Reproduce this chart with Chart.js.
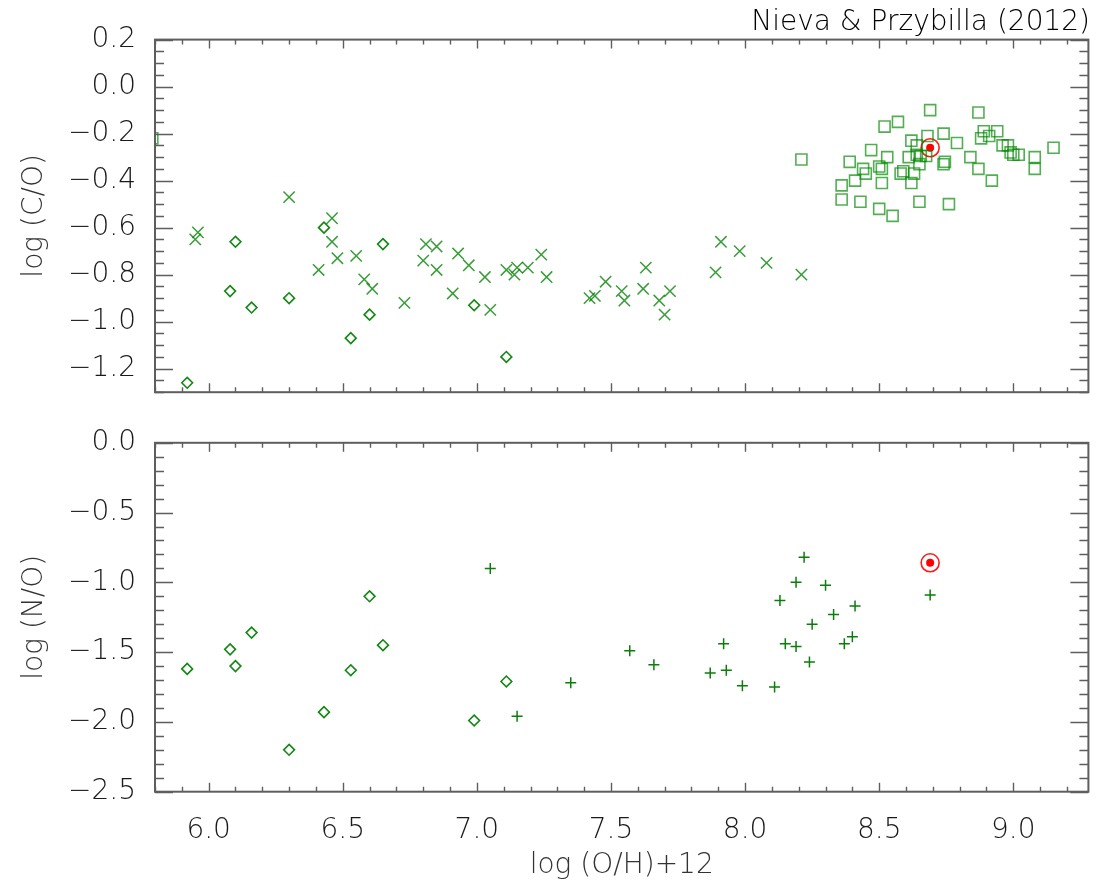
<!DOCTYPE html>
<html>
<head>
<meta charset="utf-8">
<script src="https://cdn.jsdelivr.net/npm/chart.js@4.4.1/dist/chart.umd.min.js"></script>
<style>
  html, body { margin: 0; padding: 0; background: #fff; }
  #wrap { position: relative; width: 1099px; height: 885px; overflow: hidden; }
  canvas { position: absolute; left: 0; }
  #topChart { top: 0; }
  #botChart { top: 415px; }
</style>
</head>
<body>
<div id="wrap">
  <canvas id="topChart" width="1099" height="420"></canvas>
  <canvas id="botChart" width="1099" height="470"></canvas>
</div>
<script>
// tick labels
var xTicks = [6.0, 6.5, 7.0, 7.5, 8.0, 8.5, 9.0];
var coTicks = [0.2, 0.0, -0.2, -0.4, -0.6, -0.8, -1.0, -1.2];
var noTicks = [0.0, -0.5, -1.0, -1.5, -2.0, -2.5];

// diamonds (same stars in both panels)
var dmX  = [5.92, 6.08, 6.10, 6.16, 6.30, 6.43, 6.53, 6.60, 6.65, 6.99, 7.11];
var dmCO = [-1.26, -0.87, -0.66, -0.94, -0.90, -0.60, -1.07, -0.97, -0.67, -0.93, -1.15];
var dmNO = [-1.62, -1.48, -1.60, -1.36, -2.20, -1.93, -1.63, -1.10, -1.45, -1.99, -1.71];

// crosses, log(C/O)
var crX = [5.95, 5.96, 6.30, 6.46, 6.46, 6.48, 6.41, 6.55, 6.58, 6.61, 6.73, 6.81, 6.85, 6.80,
           6.85, 6.93, 6.97, 6.91, 7.03, 7.05, 7.11, 7.14, 7.15, 7.19, 7.24, 7.26, 7.48, 7.42,
           7.44, 7.54, 7.55, 7.63, 7.62, 7.68, 7.72, 7.70, 7.91, 7.89, 7.98, 8.08, 8.21];
var crY = [-0.65, -0.62, -0.47, -0.56, -0.66, -0.73, -0.78, -0.72, -0.82, -0.86, -0.92, -0.67, -0.68, -0.74,
           -0.78, -0.71, -0.76, -0.88, -0.81, -0.95, -0.78, -0.80, -0.77, -0.77, -0.715, -0.81, -0.83, -0.90,
           -0.89, -0.87, -0.91, -0.77, -0.86, -0.91, -0.87, -0.97, -0.66, -0.79, -0.70, -0.75, -0.80];

// squares, log(C/O)
var sqX = [8.21, 8.69, 8.87, 8.57, 8.52, 8.74, 8.89, 8.94, 8.91, 8.88, 8.68, 8.62, 8.79, 8.64,
           8.96, 8.98, 9.15, 8.47, 8.99, 9.00, 9.02, 9.08, 8.64, 8.655, 8.675, 8.61, 8.53, 8.84,
           8.39, 8.745, 8.50, 8.51, 8.44, 8.65, 8.74, 9.08, 8.87, 8.45, 8.59, 8.63, 8.58, 8.41,
           8.51, 8.62, 8.92, 8.36, 8.36, 8.43, 8.50, 8.55, 8.65, 8.76, 5.79];
var sqY = [-0.31, -0.10, -0.11, -0.15, -0.17, -0.20, -0.19, -0.19, -0.21, -0.22, -0.21, -0.23, -0.24, -0.25,
           -0.25, -0.25, -0.26, -0.27, -0.28, -0.29, -0.29, -0.30, -0.29, -0.295, -0.295, -0.30, -0.30, -0.30,
           -0.32, -0.32, -0.34, -0.35, -0.35, -0.33, -0.33, -0.35, -0.35, -0.37, -0.36, -0.37, -0.37, -0.40,
           -0.41, -0.41, -0.40, -0.42, -0.48, -0.49, -0.52, -0.55, -0.49, -0.50, -0.22];

// plus signs, log(N/O)
var plX = [7.05, 7.15, 8.22, 8.19, 8.30, 8.13, 8.41, 8.33, 8.25, 8.40, 8.37, 8.15, 8.19, 7.92,
           8.24, 7.57, 7.66, 7.35, 7.87, 7.93, 7.99, 8.11, 8.69];
var plY = [-0.90, -1.96, -0.82, -1.00, -1.02, -1.13, -1.17, -1.23, -1.30, -1.39, -1.44, -1.44, -1.46, -1.44,
           -1.57, -1.49, -1.59, -1.72, -1.65, -1.63, -1.74, -1.75, -1.09];

// the Sun
var sunX = [8.69];
var sunCO = [-0.26];
var sunNO = [-0.86];

function pts(xs, ys) {
    var out = [];
    for (var i = 0; i < xs.length; i++) out.push({x: xs[i], y: ys[i]});
    return out;
}

function fmt(v) {
    var s = Math.abs(v).toFixed(1);
    return v < -1e-9 ? '\u2212' + s : s;
}

Chart.defaults.font.family = "'DejaVu Sans', 'Liberation Sans', sans-serif";
Chart.defaults.font.weight = '200';
Chart.defaults.color = '#111';

// inward ticks on all four sides plus the frame
var frameTicks = {
    id: 'frameTicks',
    afterDatasetsDraw: function (chart, args, o) {
        var ctx = chart.ctx, a = chart.chartArea;
        var sx = chart.scales.x, sy = chart.scales.y;
        ctx.save();
        ctx.strokeStyle = '#5e5e5e';
        ctx.lineWidth = 1.4;
        var i, v, p, len, major;
        for (i = Math.ceil(sx.min / o.xStep - 1e-6); i <= Math.floor(sx.max / o.xStep + 1e-6); i++) {
            v = i * o.xStep;
            major = Math.abs(v / o.xMajor - Math.round(v / o.xMajor)) < 1e-6;
            len = major ? 9 : 5;
            p = Math.round(sx.getPixelForValue(v)) + 0.5;
            ctx.beginPath();
            ctx.moveTo(p, a.bottom); ctx.lineTo(p, a.bottom - len);
            ctx.moveTo(p, a.top); ctx.lineTo(p, a.top + len);
            ctx.stroke();
        }
        for (i = Math.ceil(sy.min / o.yStep - 1e-6); i <= Math.floor(sy.max / o.yStep + 1e-6); i++) {
            v = i * o.yStep;
            major = Math.abs(v / o.yMajor - Math.round(v / o.yMajor)) < 1e-6;
            len = major ? 18 : 9;
            p = Math.round(sy.getPixelForValue(v)) + 0.5;
            ctx.beginPath();
            ctx.moveTo(a.left, p); ctx.lineTo(a.left + len, p);
            ctx.moveTo(a.right, p); ctx.lineTo(a.right - len, p);
            ctx.stroke();
        }
        ctx.lineWidth = 2;
        ctx.strokeRect(a.left, a.top, a.right - a.left, a.bottom - a.top);
        ctx.restore();
    }
};

function sunSets(yv) {
    return [
        {data: pts(sunX, yv), pointStyle: 'circle', pointRadius: 9, borderWidth: 1.6,
         borderColor: '#ff1a1a', backgroundColor: 'rgba(0,0,0,0)', clip: 0},
        {data: pts(sunX, yv), pointStyle: 'circle', pointRadius: 4, borderWidth: 0,
         borderColor: '#ff0000', backgroundColor: '#ff0000', clip: 0}
    ];
}

function yAxis(lo, hi, tickArr, label) {
    return {
        min: lo, max: hi,
        afterFit: function (s) { s.width = 155; },
        afterBuildTicks: function (s) { s.ticks = tickArr.map(function (v) { return {value: v}; }); },
        ticks: {autoSkip: false, padding: 11, color: '#1a1a1a', font: {size: 28}, callback: fmt},
        grid: {display: false}, border: {display: false},
        title: {display: true, text: label, color: '#333', font: {size: 28}, padding: {top: 18, bottom: 0}}
    };
}

new Chart(document.getElementById('topChart'), {
    type: 'scatter',
    data: {
        datasets: [
            {data: pts(sqX, sqY), pointStyle: 'rect', pointRadius: 7.8, borderWidth: 1.6,
             borderColor: 'rgba(0,135,0,0.68)', backgroundColor: 'rgba(0,0,0,0)', clip: 0},
            {data: pts(crX, crY), pointStyle: 'crossRot', pointRadius: 8, borderWidth: 1.5,
             borderColor: 'rgba(0,130,0,0.78)', backgroundColor: 'rgba(0,0,0,0)', clip: 0},
            {data: pts(dmX, dmCO), pointStyle: 'rectRot', pointRadius: 5.4, borderWidth: 1.6,
             borderColor: 'rgb(20,135,20)', backgroundColor: 'rgba(0,0,0,0)', clip: 0}
        ].concat(sunSets(sunCO))
    },
    options: {
        responsive: false, animation: false, events: [],
        layout: {padding: {top: 0, right: 9, bottom: 9, left: 0}},
        plugins: {
            legend: {display: false}, tooltip: {enabled: false},
            title: {display: true, text: 'Nieva & Przybilla (2012)', align: 'end', color: '#000',
                    font: {size: 28, weight: '200'}, padding: {top: 6, bottom: 0}},
            frameTicks: {xStep: 0.1, xMajor: 0.5, yStep: 0.05, yMajor: 0.2}
        },
        scales: {
            x: {min: 5.8, max: 9.28, afterFit: function (s) { s.height = 0; },
                ticks: {display: false}, grid: {display: false}, border: {display: false}},
            y: yAxis(-1.3, 0.2, coTicks, 'log (C/O)')
        }
    },
    plugins: [frameTicks]
});

new Chart(document.getElementById('botChart'), {
    type: 'scatter',
    data: {
        datasets: [
            {data: pts(dmX, dmNO), pointStyle: 'rectRot', pointRadius: 5.4, borderWidth: 1.6,
             borderColor: 'rgb(20,135,20)', backgroundColor: 'rgba(0,0,0,0)', clip: 0},
            {data: pts(plX, plY), pointStyle: 'cross', pointRadius: 5.5, borderWidth: 1.5,
             borderColor: 'rgb(10,125,10)', backgroundColor: 'rgba(0,0,0,0)', clip: 0}
        ].concat(sunSets(sunNO))
    },
    options: {
        responsive: false, animation: false, events: [],
        layout: {padding: {top: 5, right: 9, bottom: 0, left: 0}},
        plugins: {
            legend: {display: false}, tooltip: {enabled: false},
            frameTicks: {xStep: 0.1, xMajor: 0.5, yStep: 0.1, yMajor: 0.5}
        },
        scales: {
            x: {
                min: 5.8, max: 9.28,
                afterFit: function (s) { s.height = 93.3; },
                afterBuildTicks: function (s) { s.ticks = xTicks.map(function (v) { return {value: v}; }); },
                ticks: {autoSkip: false, maxRotation: 0, padding: 14, color: '#1a1a1a', font: {size: 28}, callback: fmt},
                grid: {display: false}, border: {display: false},
                title: {display: true, text: 'log (O/H)+12', color: '#333', font: {size: 28}, padding: {top: 0, bottom: 2}}
            },
            y: yAxis(-2.5, 0.0, noTicks, 'log (N/O)')
        }
    },
    plugins: [frameTicks]
});
</script>
</body>
</html>
